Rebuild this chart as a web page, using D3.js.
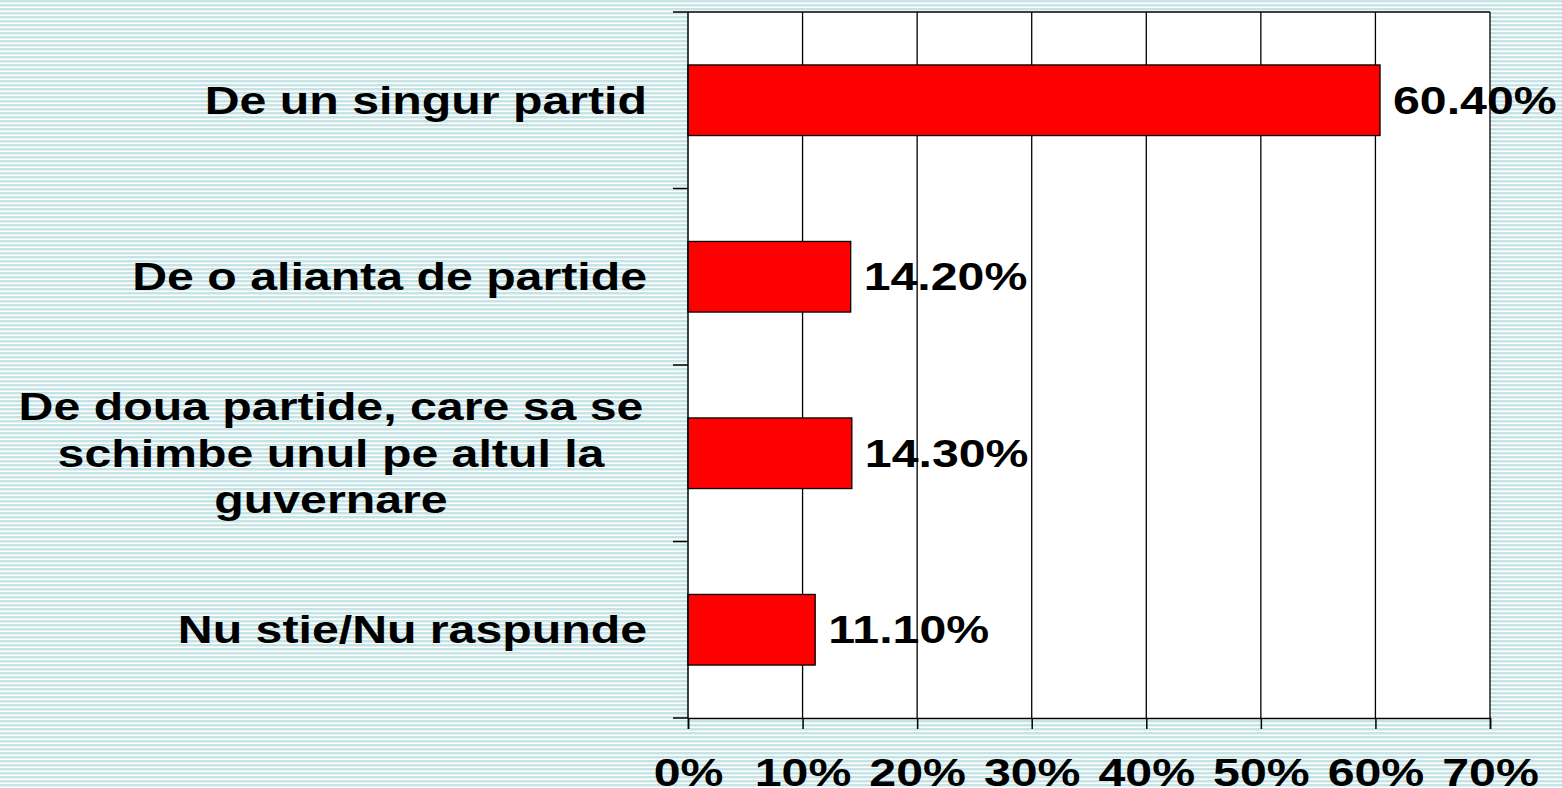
<!DOCTYPE html>
<html>
<head>
<meta charset="utf-8">
<script src="https://cdn.jsdelivr.net/npm/d3@7"></script>
<style>
  html, body { margin: 0; padding: 0; background: #fff; }
  svg { display: block; }
  text { font-family: "Liberation Sans", Arial, sans-serif; font-weight: bold; fill: #000; }
</style>
</head>
<body>
<div id="chart"></div>
<script>
// chart data
var categories = ["De un singur partid", "De o alianta de partide", "De doua partide, care sa se|schimbe unul pe altul la|guvernare", "Nu stie/Nu raspunde"];
var values = [60.4, 14.2, 14.3, 11.1];
var xTicks = [0, 10, 20, 30, 40, 50, 60, 70];

var W = 1562, H = 788;
var margin = {top: 12, right: 70, bottom: 70, left: 688};
var fontSize = 38, stretch = 1.27;

var svg = d3.select("#chart").append("svg")
    .attr("width", W)
    .attr("height", H);

// striped background
var pat = svg.append("defs").append("pattern")
    .attr("id", "stripes")
    .attr("width", 8)
    .attr("height", 4)
    .attr("patternUnits", "userSpaceOnUse");
pat.append("rect").attr("width", 8).attr("height", 4).style("fill", "#ffffff");
pat.append("rect").attr("width", 8).attr("height", 2).style("fill", "#c6e3e6");
pat.append("rect").attr("y", 2).attr("width", 8).attr("height", 1).style("fill", "#e2f1f2");

svg.append("rect")
    .attr("width", W)
    .attr("height", H)
    .style("fill", "url(#stripes)");

var x = d3.scaleLinear().domain([0, 70]).range([margin.left, W - margin.right - 2]);
var y = d3.scaleBand().domain(categories).range([margin.top, H - margin.bottom]).padding(0);
var step = y.step();

// plot area
svg.append("rect")
    .attr("x", x(0))
    .attr("y", margin.top)
    .attr("width", x(70) - x(0))
    .attr("height", y.range()[1] - margin.top)
    .style("fill", "white");

// vertical gridlines
svg.append("g")
  .selectAll("line.grid")
  .data(xTicks.slice(1)).enter()
  .append("line")
    .attr("class", "grid")
    .attr("x1", d => x(d)).attr("x2", d => x(d))
    .attr("y1", margin.top).attr("y2", y.range()[1])
    .style("stroke", "#000")
    .style("stroke-width", 1.3);

// top border
svg.append("line")
    .attr("x1", x(0)).attr("x2", x(70))
    .attr("y1", margin.top).attr("y2", margin.top)
    .style("stroke", "#000").style("stroke-width", 1.5);

// bars
svg.append("g")
  .selectAll("rect.bar")
  .data(values).enter()
  .append("rect")
    .attr("class", "bar")
    .attr("x", x(0))
    .attr("y", (d, i) => y(categories[i]) + step * 0.3)
    .attr("width", d => x(d) - x(0))
    .attr("height", step * 0.4)
    .style("fill", "#ff0000")
    .style("stroke", "#000")
    .style("stroke-width", 1.3);

// value labels
svg.append("g")
  .selectAll("text.val")
  .data(values).enter()
  .append("text")
    .attr("class", "val")
    .attr("transform", (d, i) => "translate(" + (x(d) + 13) + "," + (y(categories[i]) + step / 2 + 13.5) + ") scale(" + stretch + ",1)")
    .style("font-size", fontSize + "px")
    .text(d => d.toFixed(2) + "%");

// left axis with ticks at band boundaries
var bounds = categories.map(c => y(c)).concat([y.range()[1]]);
svg.append("line")
    .attr("x1", x(0)).attr("x2", x(0))
    .attr("y1", margin.top).attr("y2", y.range()[1])
    .style("stroke", "#000").style("stroke-width", 1.5);
svg.append("g")
  .selectAll("line.ytick")
  .data(bounds).enter()
  .append("line")
    .attr("x1", x(0) - 15).attr("x2", x(0))
    .attr("y1", d => d).attr("y2", d => d)
    .style("stroke", "#000").style("stroke-width", 1.5);

// bottom axis
var xAxis = svg.append("g")
    .attr("transform", "translate(0," + y.range()[1] + ")")
    .call(d3.axisBottom(x).tickValues(xTicks).tickSize(11).tickFormat(d => d + "%"));
xAxis.select(".domain").style("stroke", "#000").style("stroke-width", 1.5);
xAxis.selectAll(".tick line").style("stroke", "#000").style("stroke-width", 1.5);
xAxis.selectAll(".tick text")
    .attr("y", 0).attr("dy", 0)
    .attr("transform", "translate(0,68) scale(" + stretch + ",1)")
    .style("font-size", fontSize + "px")
    .style("font-family", "'Liberation Sans', Arial, sans-serif")
    .style("font-weight", "bold")
    .style("fill", "#000");

// category labels (multi-line ones centered as a block, right edge at 647)
var labelRight = 647, lineH = 46.5;
categories.forEach(function(c) {
  var lines = c.split("|");
  var cy = y(c) + step / 2;
  var g = svg.append("text")
      .style("font-size", fontSize + "px");
  if (lines.length == 1) {
    g.attr("transform", "translate(" + labelRight + "," + (cy + 13.5) + ") scale(" + stretch + ",1)")
      .style("text-anchor", "end")
      .text(lines[0]);
  } else {
    g.attr("transform", "translate(" + 331 + "," + (cy + 13.5) + ") scale(" + stretch + ",1)")
      .style("text-anchor", "middle")
      .selectAll("tspan")
      .data(lines).enter()
      .append("tspan")
        .attr("x", 0)
        .attr("y", (d, i) => (i - (lines.length - 1) / 2) * lineH)
        .text(d => d);
  }
});
</script>
</body>
</html>
